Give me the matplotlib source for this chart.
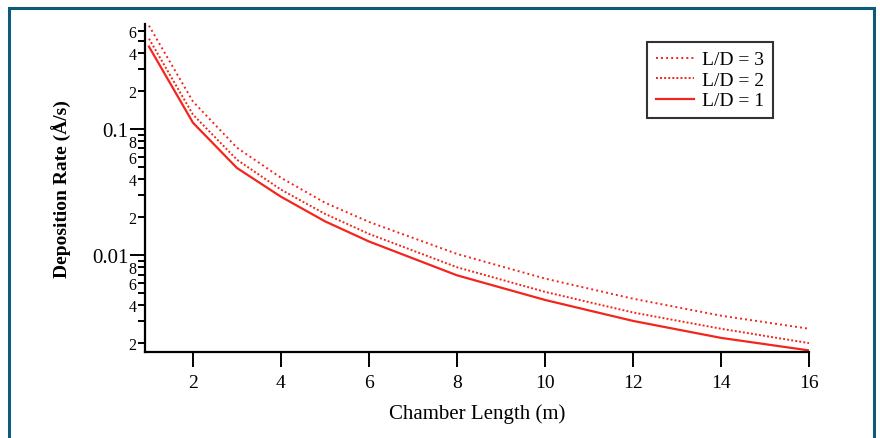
import matplotlib.pyplot as plt
import numpy as np
from matplotlib.patches import Rectangle
from matplotlib.ticker import FixedLocator, FuncFormatter

# chamber length (m) and deposition rate (A/s) for three L/D ratios
length = [1, 2, 3, 4, 5, 6, 8, 10, 12, 14, 16]
rate_ld1 = [0.45, 0.112, 0.049, 0.029, 0.0185, 0.0128, 0.0069, 0.0044, 0.0030, 0.0022, 0.00175]
rate_ld2 = [0.52, 0.13, 0.057, 0.033, 0.0212, 0.0147, 0.0080, 0.0051, 0.0035, 0.0026, 0.0020]
rate_ld3 = [0.66, 0.165, 0.071, 0.041, 0.026, 0.0183, 0.0102, 0.0065, 0.0045, 0.0033, 0.0026]

x_ticks = [2, 4, 6, 8, 10, 12, 14, 16]

plt.rcParams['font.family'] = ['Liberation Serif', 'DejaVu Serif']

red = '#f2261c'

fig = plt.figure(figsize=(8.8, 4.39), dpi=100)
ax = fig.add_axes([145 / 880, 86 / 439, (809 - 145) / 880, (353 - 25) / 439])

ax.plot(length, rate_ld3, color=red, lw=1.4, ls=(0, (1, 1.6)), label='L/D = 3')
ax.plot(length, rate_ld2, color=red, lw=1.4, ls=(0, (1, 1.1)), label='L/D = 2')
ax.plot(length, rate_ld1, color=red, lw=1.6, label='L/D = 1')

ax.set_yscale('log')
ax.set_xlim(0.91, 16)
ax.set_ylim(0.0017, 0.68)

for side in ('top', 'right'):
    ax.spines[side].set_visible(False)
for side in ('left', 'bottom'):
    ax.spines[side].set_linewidth(1.6)

ax.set_xticks(x_ticks)
ax.set_xticklabels([str(t) for t in x_ticks])
ax.tick_params(axis='x', direction='out', length=11, width=1.4, labelsize=14, pad=5)

# y axis: long ticks at decades, short labelled ticks at 2,4,6,8
ax.yaxis.set_major_locator(FixedLocator([0.01, 0.1]))
ax.yaxis.set_major_formatter(FuncFormatter(lambda v, p: '0.01' if v < 0.05 else '0.1'))
minors = [m * d for d in (0.001, 0.01, 0.1) for m in range(2, 10)]
ax.yaxis.set_minor_locator(FixedLocator(minors))


def minor_label(v, pos):
    digit = int(round(v / 10 ** np.floor(np.log10(v) + 1e-9)))
    return str(digit) if digit % 2 == 0 else ''


ax.yaxis.set_minor_formatter(FuncFormatter(minor_label))
ax.tick_params(axis='y', which='major', direction='out', length=11, width=1.4, labelsize=15, pad=1)
ax.tick_params(axis='y', which='minor', direction='out', length=5, width=1.4, labelsize=11.5, pad=1)

ax.set_xlabel('Chamber Length (m)', fontsize=15, labelpad=9)
ax.set_ylabel('Deposition Rate (Å/s)', fontsize=14, fontweight='bold')
ax.yaxis.set_label_coords(-(145 - 72) / 664, 0.5)

leg = ax.legend(loc='upper left', bbox_to_anchor=((647 - 145) / 664, 1 - (43 - 25) / 328),
                fontsize=14, frameon=True, fancybox=False, handlelength=1.95,
                handletextpad=0.45, labelspacing=0.15, borderpad=0.45, borderaxespad=0)
leg.get_frame().set_edgecolor('black')
leg.get_frame().set_linewidth(1.5)

# outer frame around the figure
fig.patches.append(Rectangle((9 / 880, -0.1), (874 - 9) / 880, 1.1 - 9 / 439,
                             transform=fig.transFigure, fill=False,
                             edgecolor='#0e5a78', lw=2.2))

fig.savefig('out.png', dpi=100)
